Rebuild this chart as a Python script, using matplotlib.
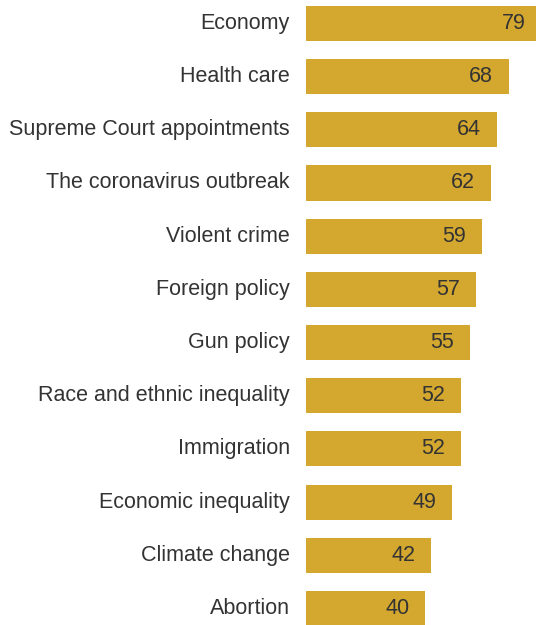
import matplotlib
matplotlib.use("Agg")
import matplotlib.pyplot as plt

issues = [
    "Economy",
    "Health care",
    "Supreme Court appointments",
    "The coronavirus outbreak",
    "Violent crime",
    "Foreign policy",
    "Gun policy",
    "Race and ethnic inequality",
    "Immigration",
    "Economic inequality",
    "Climate change",
    "Abortion",
]
values = [79, 68, 64, 62, 59, 57, 55, 52, 52, 49, 42, 40]

plt.rcParams["font.family"] = ["Liberation Sans", "DejaVu Sans"]

fig = plt.figure(figsize=(5.36, 6.25), dpi=100)
ax = fig.add_axes([306 / 536, 0, 1 - 306 / 536, 1])

ypos = list(range(len(issues)))
ax.barh(ypos, values, height=0.66, color="#D4A82F")

ax.set_xlim(0, 77.05)
ax.set_ylim(11.31, -0.44)

# value labels inside bar ends
for y, v in zip(ypos, values):
    ax.text(v - 5.3, y, str(v), ha="right", va="center",
            fontsize=15.5, color="#333333", clip_on=False)

# category labels left of bars
for y, name in zip(ypos, issues):
    ax.text(-5.4, y, name, ha="right", va="center",
            fontsize=15.5, color="#333333", clip_on=False)

ax.set_xticks([])
ax.set_yticks([])
for s in ax.spines.values():
    s.set_visible(False)

fig.savefig("out.png", dpi=100)
